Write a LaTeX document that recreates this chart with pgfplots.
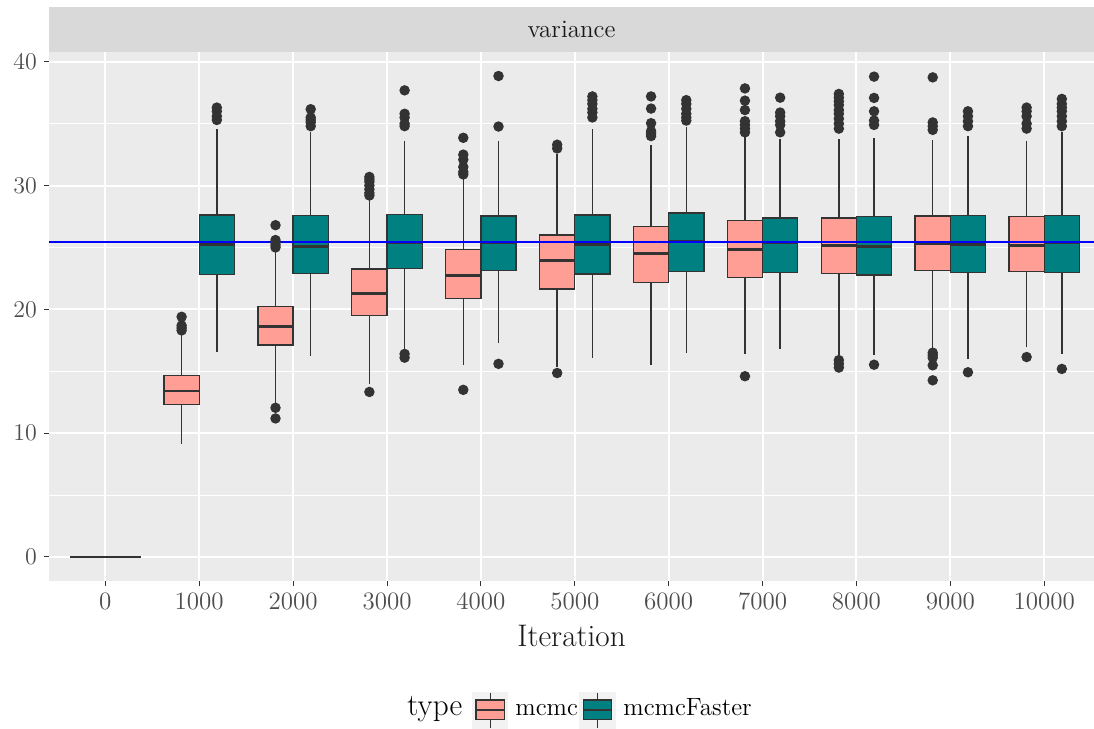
\documentclass[border=0pt]{standalone}
\usepackage{pgfplots}
\pgfplotsset{compat=1.18}
\usepgfplotslibrary{statistics}
\usetikzlibrary{calc}
\definecolor{cmc}{HTML}{FF9E94}
\definecolor{cfast}{HTML}{008080}
\definecolor{cdark}{HTML}{333333}
\definecolor{ctick}{HTML}{4D4D4D}
\definecolor{ctext}{HTML}{1A1A1A}
\definecolor{cbg}{HTML}{EBEBEB}
\definecolor{cstrip}{HTML}{D9D9D9}
\definecolor{ckey}{HTML}{F2F2F2}

\pgfplotsset{
  bx/.style={draw=cdark, line width=0.7pt, mark=*, mark size=2.25pt,
    mark options={draw=cdark, fill=cdark, solid},
    boxplot/draw direction=y,
    boxplot/box extend=0.375, boxplot/whisker extend=0,
    boxplot/every median/.style={line width=1.4pt}},
  mc/.style={bx, fill=cmc},
  mf/.style={bx, fill=cfast},
}

\begin{document}
\begin{tikzpicture}
\useasboundingbox (0,0) rectangle (547pt,364.5pt);
\begin{axis}[
  name=ax,
  at={(24.5pt,74pt)}, anchor=south west,
  scale only axis,
  width=522.5pt, height=264.5pt,
  xmin=-0.6, xmax=10.53,
  ymin=-1.94, ymax=40.79,
  xtick={0,1,2,3,4,5,6,7,8,9,10},
  xticklabels={0,1000,2000,3000,4000,5000,6000,7000,8000,9000,10000},
  ytick={0,10,20,30,40},
  minor ytick={5,15,25,35},
  grid=both,
  major grid style={white, line width=1pt},
  minor grid style={white, line width=0.5pt},
  minor tick length=0pt,
  major tick length=2.5pt,
  tick align=outside,
  tick pos=left,
  tick style={cdark, line width=0.5pt},
  axis line style={draw=none},
  axis background/.style={fill=cbg},
  ticklabel style={font=\fontsize{12.5}{15}\selectfont, text=ctick},
  xlabel={Iteration},
  xlabel style={font=\fontsize{15.6}{18}\selectfont, text=ctext, at={(axis description cs:0.5,-0.123)}, anchor=base},
]
% iteration 0: all zero
\addplot[mc, boxplot prepared={draw position=0, box extend=0.75, lower whisker=0, lower quartile=0, median=0, upper quartile=0, upper whisker=0}] coordinates {};
% 1000
\addplot[mc, boxplot prepared={draw position=0.8125, lower whisker=9.15, lower quartile=12.34, median=13.41, upper quartile=14.65, upper whisker=18.08}]
  coordinates {(0,19.4)(0,18.7)(0,18.5)(0,18.3)};
\addplot[mf, boxplot prepared={draw position=1.1875, lower whisker=16.52, lower quartile=22.83, median=25.27, upper quartile=27.63, upper whisker=34.55}]
  coordinates {(0,36.3)(0,36.0)(0,35.6)(0,35.3)};
% 2000
\addplot[mc, boxplot prepared={draw position=1.8125, lower whisker=12.39, lower quartile=17.12, median=18.59, upper quartile=20.23, upper whisker=24.79}]
  coordinates {(0,26.8)(0,25.6)(0,25.4)(0,25.2)(0,25.0)(0,12.05)(0,11.19)};
\addplot[mf, boxplot prepared={draw position=2.1875, lower whisker=16.26, lower quartile=22.88, median=25.06, upper quartile=27.6, upper whisker=34.31}]
  coordinates {(0,36.17)(0,35.5)(0,35.3)(0,35.1)(0,34.8)};
% 3000
\addplot[mc, boxplot prepared={draw position=2.8125, lower whisker=13.98, lower quartile=19.5, median=21.27, upper quartile=23.26, upper whisker=28.87}]
  coordinates {(0,30.7)(0,30.5)(0,30.3)(0,30.0)(0,29.7)(0,29.4)(0,29.2)(0,13.33)};
\addplot[mf, boxplot prepared={draw position=3.1875, lower whisker=16.82, lower quartile=23.31, median=25.38, upper quartile=27.66, upper whisker=33.59}]
  coordinates {(0,37.69)(0,35.8)(0,35.5)(0,35.0)(0,34.8)(0,16.4)(0,16.1)};
% 4000
\addplot[mc, boxplot prepared={draw position=3.8125, lower whisker=15.53, lower quartile=20.9, median=22.75, upper quartile=24.82, upper whisker=30.56}]
  coordinates {(0,33.86)(0,32.5)(0,32.1)(0,31.5)(0,31.1)(0,30.9)(0,13.5)};
\addplot[mf, boxplot prepared={draw position=4.1875, lower whisker=17.28, lower quartile=23.15, median=25.4, upper quartile=27.55, upper whisker=33.59}]
  coordinates {(0,38.85)(0,34.77)(0,15.6)};
% 5000
\addplot[mc, boxplot prepared={draw position=4.8125, lower whisker=15.32, lower quartile=21.65, median=23.93, upper quartile=26.02, upper whisker=32.57}]
  coordinates {(0,33.3)(0,33.0)(0,14.86)};
\addplot[mf, boxplot prepared={draw position=5.1875, lower whisker=16.07, lower quartile=22.86, median=25.27, upper quartile=27.63, upper whisker=34.53}]
  coordinates {(0,37.2)(0,36.9)(0,36.6)(0,36.2)(0,35.9)(0,35.5)};
% 6000
\addplot[mc, boxplot prepared={draw position=5.8125, lower whisker=15.48, lower quartile=22.19, median=24.5, upper quartile=26.7, upper whisker=33.3}]
  coordinates {(0,37.2)(0,36.22)(0,35.04)(0,34.4)(0,34.2)(0,34.0)};
\addplot[mf, boxplot prepared={draw position=6.1875, lower whisker=16.47, lower quartile=23.04, median=25.46, upper quartile=27.79, upper whisker=34.71}]
  coordinates {(0,36.9)(0,36.6)(0,36.2)(0,35.8)(0,35.5)(0,35.25)};
% 7000
\addplot[mc, boxplot prepared={draw position=6.8125, lower whisker=16.42, lower quartile=22.59, median=24.82, upper quartile=27.18, upper whisker=33.96}]
  coordinates {(0,37.85)(0,36.86)(0,36.1)(0,35.2)(0,34.9)(0,34.6)(0,34.3)(0,14.6)};
\addplot[mf, boxplot prepared={draw position=7.1875, lower whisker=16.79, lower quartile=22.96, median=25.43, upper quartile=27.39, upper whisker=33.78}]
  coordinates {(0,37.1)(0,35.9)(0,35.6)(0,35.2)(0,34.9)(0,34.3)};
% 8000
\addplot[mc, boxplot prepared={draw position=7.8125, lower whisker=16.28, lower quartile=22.91, median=25.19, upper quartile=27.39, upper whisker=33.78}]
  coordinates {(0,37.4)(0,37.1)(0,36.8)(0,36.5)(0,36.1)(0,35.8)(0,35.4)(0,35.0)(0,34.6)(0,15.9)(0,15.6)(0,15.3)};
\addplot[mf, boxplot prepared={draw position=8.1875, lower whisker=16.34, lower quartile=22.78, median=25.09, upper quartile=27.52, upper whisker=33.86}]
  coordinates {(0,38.8)(0,37.08)(0,36.0)(0,35.25)(0,34.9)(0,15.53)};
% 9000
\addplot[mc, boxplot prepared={draw position=8.8125, lower whisker=16.79, lower quartile=23.12, median=25.3, upper quartile=27.55, upper whisker=33.7}]
  coordinates {(0,38.74)(0,35.1)(0,34.8)(0,34.5)(0,16.5)(0,16.3)(0,16.1)(0,15.48)(0,14.27)};
\addplot[mf, boxplot prepared={draw position=9.1875, lower whisker=15.99, lower quartile=22.96, median=25.27, upper quartile=27.6, upper whisker=33.99}]
  coordinates {(0,36.0)(0,35.6)(0,35.2)(0,34.8)(0,14.92)};
% 10000
\addplot[mc, boxplot prepared={draw position=9.8125, lower whisker=16.93, lower quartile=23.04, median=25.19, upper quartile=27.52, upper whisker=33.64}]
  coordinates {(0,36.3)(0,36.0)(0,35.6)(0,35.0)(0,34.6)(0,16.15)};
\addplot[mf, boxplot prepared={draw position=10.1875, lower whisker=16.42, lower quartile=22.96, median=25.4, upper quartile=27.6, upper whisker=34.31}]
  coordinates {(0,37.0)(0,36.6)(0,36.3)(0,36.0)(0,35.6)(0,35.2)(0,34.8)(0,15.19)};
% reference line
\addplot[blue, line width=0.6pt] coordinates {(-0.6,25.45)(10.53,25.45)};
\end{axis}

% facet strip
\fill[cstrip] (ax.north west) rectangle ($(ax.north east)+(0,22.5pt)$);
\node[font=\fontsize{12.5}{15}\selectfont, text=ctext] at ($(ax.north)+(0,11.25pt)$) {variance};

% legend
\node[anchor=base west, font=\fontsize{15.6}{18}\selectfont, inner sep=0pt] at (203.5pt,6.5pt) {type};
\fill[ckey] (235.9pt,0pt) rectangle (254.2pt,18.5pt);
\draw[cdark, line width=0.5pt] (245.05pt,0.6pt) -- (245.05pt,18pt);
\draw[cdark, line width=0.7pt, fill=cmc] (238pt,4.85pt) rectangle (252.1pt,14.5pt);
\draw[cdark, line width=0.9pt] (238pt,9.6pt) -- (252.1pt,9.6pt);
\node[anchor=base west, font=\fontsize{12.5}{15}\selectfont, inner sep=0pt] at (257.5pt,6.5pt) {mcmc};
\fill[ckey] (289.5pt,0pt) rectangle (307.8pt,18.5pt);
\draw[cdark, line width=0.5pt] (298.65pt,0.6pt) -- (298.65pt,18pt);
\draw[cdark, line width=0.7pt, fill=cfast] (291.6pt,4.85pt) rectangle (305.7pt,14.5pt);
\draw[cdark, line width=0.9pt] (291.6pt,9.6pt) -- (305.7pt,9.6pt);
\node[anchor=base west, font=\fontsize{12.5}{15}\selectfont, inner sep=0pt] at (311.5pt,6.5pt) {mcmcFaster};
\end{tikzpicture}
\end{document}
